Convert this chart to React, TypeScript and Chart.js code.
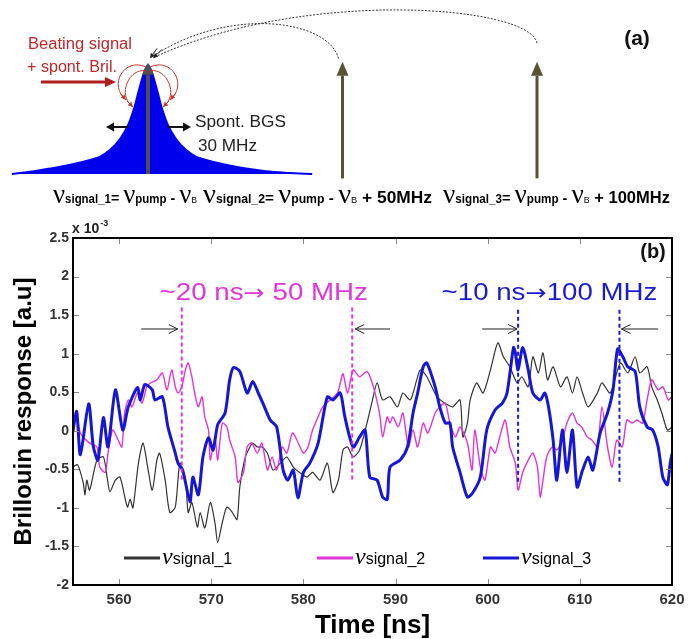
import React, { useEffect, useRef } from 'react';
import { Chart, registerables } from 'chart.js';
Chart.register(...registerables);

const SANS = '"Liberation Sans", Arial, Helvetica, sans-serif';
const SERIF = '"Liberation Serif", "Times New Roman", serif';
const ARROWFONT = '"DejaVu Sans", sans-serif';

// ---------- (a) schematic: spontaneous Brillouin gain spectrum ----------
const bgsFreq = [-35, -30.3, -25.2, -20, -14.9, -12.3, -9.8, -7.2, -5.1, -3.6, -2.1, -1.0, 0, 1.0, 2.1, 3.6, 5.1, 7.2, 9.8, 12.3, 14.9, 20, 25.2, 30.3, 36.5, 42.2];
const bgsGain = [0, 0.02, 0.05, 0.085, 0.13, 0.16, 0.22, 0.32, 0.45, 0.6, 0.8, 0.93, 1.0, 0.93, 0.8, 0.6, 0.45, 0.32, 0.22, 0.16, 0.13, 0.085, 0.05, 0.025, 0.01, 0];
const probeOffsets = [50, 100];

// ---------- (b) Brillouin response ----------
const xTicks = [560, 570, 580, 590, 600, 610, 620];
const yTicks = [-2, -1.5, -1, -0.5, 0, 0.5, 1, 1.5, 2, 2.5];
const seriesNames = ['signal_1', 'signal_2', 'signal_3'];

const time1 = [555.0, 555.5, 556.1, 556.3, 556.5, 556.8, 557.6, 558.3, 558.7, 559.0, 559.6, 560.1, 560.9, 561.2, 561.5, 562.1, 562.6, 563.1, 563.6, 564.1, 564.4, 565.0, 565.5, 566.1, 566.6, 567.2, 567.5, 567.9, 568.5, 568.8, 569.3, 569.9, 570.4, 570.7, 571.2, 571.7, 572.3, 572.8, 573.1, 573.7, 574.2, 574.5, 575.0, 575.5, 576.1, 576.7, 577.5, 578.2, 578.9, 579.6, 580.4, 581.0, 581.8, 582.6, 583.2, 583.8, 584.3, 584.8, 585.4, 586.1, 586.9, 587.5, 588.0, 588.6, 589.4, 590.2, 590.8, 591.6, 592.3, 592.7, 593.4, 594.5, 595.6, 596.2, 597.0, 597.3, 597.8, 598.1, 598.8, 599.5, 600.3, 601.1, 601.7, 602.4, 603.2, 603.7, 604.4, 604.9, 605.5, 606.0, 606.5, 607.1, 607.9, 608.6, 609.2, 609.7, 610.3, 610.9, 611.9, 612.4, 613.3, 614.4, 615.2, 616.0, 616.5, 617.3, 617.8, 618.4, 618.9, 619.5, 620.0];
const resp1 = [-0.47, -0.44, -0.67, -0.83, -0.64, -0.77, -0.38, -0.34, -0.60, -0.79, -0.64, -0.60, -0.99, -0.89, -1.00, -0.42, -0.16, -0.47, -0.77, -0.38, -0.29, -0.64, -1.06, -0.99, -0.42, -0.64, -1.06, -0.93, -1.25, -1.06, -1.26, -0.93, -1.19, -1.45, -1.19, -0.99, -1.06, -1.15, -0.73, -0.34, -0.21, -0.16, -0.21, -0.21, -0.29, -0.51, -0.42, -0.34, -0.47, -0.54, -0.60, -0.54, -0.64, -0.42, -0.80, -0.64, -0.25, -0.21, -0.34, -0.25, 0.10, 0.40, 0.62, 0.40, 0.44, 0.31, 0.49, 0.40, 0.66, 0.79, 0.70, 0.44, 0.34, 0.31, 0.40, -0.08, 0.10, 0.40, 0.62, 0.49, 0.79, 1.14, 0.96, 0.83, 0.62, 0.70, 0.57, 0.96, 0.75, 1.01, 0.66, 0.83, 0.57, 0.70, 0.49, 0.70, 0.49, 0.31, 0.49, 0.62, 0.49, 0.88, 0.75, 0.96, 0.75, 0.83, 0.57, 0.40, 0.23, 0.01, 0.05];

const time2 = [555.0, 555.4, 555.8, 556.8, 557.6, 557.9, 558.5, 558.8, 559.3, 559.9, 560.3, 560.6, 561.0, 561.4, 562.0, 562.5, 563.0, 563.4, 564.1, 564.7, 565.2, 565.7, 566.1, 566.4, 566.8, 567.2, 567.5, 567.9, 568.2, 568.6, 569.0, 569.3, 569.7, 569.9, 570.4, 570.7, 571.2, 571.7, 572.0, 572.6, 572.9, 573.5, 573.9, 574.4, 575.0, 575.5, 576.1, 576.6, 577.1, 577.7, 578.2, 578.8, 579.3, 580.0, 580.5, 581.0, 581.6, 582.1, 582.9, 583.7, 584.0, 584.3, 584.8, 585.4, 586.1, 586.9, 587.6, 588.3, 588.6, 589.1, 589.4, 589.7, 590.3, 590.8, 591.4, 591.9, 592.4, 593.0, 593.5, 594.3, 594.8, 595.4, 595.9, 596.5, 597.0, 597.8, 598.3, 598.6, 599.2, 599.7, 600.3, 600.8, 601.3, 601.9, 602.4, 603.0, 603.3, 603.8, 604.4, 604.9, 605.4, 605.7, 606.0, 606.4, 607.0, 607.5, 608.1, 608.6, 609.2, 609.7, 610.2, 610.8, 611.3, 611.9, 612.4, 613.0, 613.5, 614.0, 614.6, 615.1, 615.7, 616.2, 616.8, 617.3, 617.8, 618.5, 619.0, 619.6, 620.0];
const resp2 = [0.14, 0.18, -0.03, -0.16, -0.21, -0.47, -0.54, -0.29, 0.01, -0.12, -0.21, 0.23, 0.40, 0.31, 0.49, 0.36, 0.57, 0.62, 0.66, 0.75, 0.53, 0.79, 0.57, 0.49, 0.57, 0.79, 0.88, 0.70, 0.49, 0.31, 0.44, 0.18, 0.01, -0.38, -0.08, -0.38, 0.10, 0.05, -0.12, -0.34, -0.67, -0.54, -0.21, -0.16, -0.29, -0.16, -0.51, -0.34, -0.51, -0.21, -0.29, -0.03, -0.12, -0.29, -0.21, 0.01, 0.18, 0.31, 0.40, 0.49, 0.62, 0.74, 0.49, 0.79, 0.70, 0.77, 0.57, 0.20, -0.08, 0.18, 0.10, 0.18, 0.05, 0.23, -0.21, 0.01, -0.21, 0.10, -0.03, 0.23, 0.31, 0.36, 0.10, -0.08, 0.05, -0.16, -0.51, 0.01, -0.47, -0.64, -0.21, -0.29, -0.08, 0.14, -0.21, -0.42, -0.77, -0.54, -0.38, -0.29, -0.47, -0.86, -0.64, -0.34, -0.21, -0.25, -0.12, 0.10, 0.23, 0.10, 0.05, -0.08, -0.12, -0.21, 0.31, -0.21, -0.47, -0.12, -0.21, 0.14, 0.10, 0.14, 0.10, 0.40, 0.66, 0.53, 0.57, 0.40, 0.45];

const time3 = [555.0, 555.4, 555.8, 556.7, 557.2, 557.7, 558.3, 558.8, 559.6, 560.4, 561.0, 562.0, 562.3, 562.8, 563.6, 563.9, 564.7, 565.3, 566.1, 566.4, 566.9, 567.7, 568.0, 568.6, 569.1, 569.7, 570.2, 570.7, 571.5, 572.0, 572.4, 573.1, 573.9, 574.5, 575.1, 575.6, 576.4, 577.1, 577.8, 578.3, 578.9, 579.4, 580.0, 580.7, 581.6, 582.6, 583.2, 584.0, 584.5, 585.4, 586.1, 586.7, 587.2, 588.0, 588.6, 589.1, 589.4, 590.5, 591.3, 591.9, 592.4, 593.0, 593.4, 594.3, 594.8, 595.4, 595.9, 596.2, 597.0, 597.8, 598.4, 599.2, 599.9, 600.8, 601.6, 602.1, 602.8, 603.0, 603.3, 603.8, 604.4, 604.9, 605.7, 606.2, 606.6, 607.1, 607.5, 608.1, 608.6, 609.2, 609.7, 610.3, 610.9, 611.4, 612.2, 613.0, 613.6, 614.1, 614.7, 615.2, 616.0, 616.5, 617.3, 617.9, 618.5, 619.0, 619.5, 619.8, 620.0];
const resp3 = [0.0, 0.25, -0.31, 0.35, -0.2, -0.38, 0.17, -0.21, 0.53, 0.01, 0.31, 0.56, 0.40, 0.60, 0.53, 0.40, 0.44, 0.05, -0.29, -0.42, -0.51, -0.92, -0.60, -0.83, -0.34, -0.09, -0.25, 0.08, 0.23, 0.66, 0.82, 0.77, 0.49, 0.64, 0.49, 0.36, 0.14, 0.05, -0.51, -0.64, -0.51, -0.87, -0.54, -0.42, -0.16, 0.44, 0.40, 0.49, 0.18, -0.21, -0.08, 0.01, -0.60, -0.64, -0.86, -0.89, -0.47, -0.38, -0.21, 0.23, 0.49, 0.83, 0.88, 0.57, 0.31, 0.10, 0.10, -0.21, -0.54, -0.86, -0.80, -0.60, 0.01, 0.27, 0.36, 0.49, 1.08, 1.01, 0.79, 1.08, 0.79, 0.49, 0.40, 0.49, 0.31, -0.12, -0.64, 0.01, -0.54, 0.01, -0.73, -0.51, -0.34, -0.51, -0.03, 0.23, 0.53, 1.06, 0.95, 0.83, 0.77, 0.31, 0.05, 0.01, -0.21, -0.60, -0.70, -0.42, -0.30];

const period50 = [566.8, 585.3];
const period100 = [603.3, 614.3];

// ---------- helpers ----------
function arrow(ctx: CanvasRenderingContext2D, x1: number, y1: number, x2: number, y2: number, color: string, width: number, headLen: number, headW: number, open = false) {
  const a = Math.atan2(y2 - y1, x2 - x1);
  const bx = x2 - Math.cos(a) * headLen;
  const by = y2 - Math.sin(a) * headLen;
  ctx.save();
  ctx.strokeStyle = color;
  ctx.fillStyle = color;
  ctx.lineWidth = width;
  ctx.setLineDash([]);
  ctx.beginPath();
  ctx.moveTo(x1, y1);
  ctx.lineTo(open ? x2 : bx, open ? y2 : by);
  ctx.stroke();
  const px = -Math.sin(a) * headW, py = Math.cos(a) * headW;
  ctx.beginPath();
  if (open) {
    ctx.moveTo(bx + px, by + py);
    ctx.lineTo(x2, y2);
    ctx.lineTo(bx - px, by - py);
    ctx.stroke();
  } else {
    ctx.moveTo(bx + px, by + py);
    ctx.lineTo(x2, y2);
    ctx.lineTo(bx - px, by - py);
    ctx.closePath();
    ctx.fill();
  }
  ctx.restore();
}

function fitText(ctx: CanvasRenderingContext2D, text: string, x1: number, x2: number, y: number, font: string, color: string) {
  ctx.save();
  ctx.font = font;
  ctx.fillStyle = color;
  ctx.textAlign = 'left';
  ctx.textBaseline = 'alphabetic';
  const w = ctx.measureText(text).width;
  ctx.translate(x1, y);
  ctx.scale((x2 - x1) / w, 1);
  ctx.fillText(text, 0, 0);
  ctx.restore();
}

type Run = { t: string; f: string; dy?: number };
function drawRuns(ctx: CanvasRenderingContext2D, runs: Run[], x1: number, x2: number, y: number, color = '#000') {
  ctx.save();
  let total = 0;
  for (const r of runs) { ctx.font = r.f; total += ctx.measureText(r.t).width; }
  ctx.translate(x1, y);
  ctx.scale((x2 - x1) / total, 1);
  ctx.fillStyle = color;
  ctx.textAlign = 'left';
  ctx.textBaseline = 'alphabetic';
  let x = 0;
  for (const r of runs) {
    ctx.font = r.f;
    ctx.fillText(r.t, x, r.dy || 0);
    x += ctx.measureText(r.t).width;
  }
  ctx.restore();
}

const NU = `28px ${SERIF}`;
const SUB = `bold 12px ${SANS}`;
const OP = `bold 15px ${SANS}`;
const SUBB = `9px ${SANS}`;
function formulaRuns(idx: number, extra: string): Run[] {
  const runs: Run[] = [
    { t: 'ν', f: NU }, { t: `signal_${idx}`, f: SUB }, { t: '= ', f: OP },
    { t: 'ν', f: NU }, { t: 'pump', f: SUB }, { t: ' - ', f: OP },
    { t: 'ν', f: NU }, { t: 'B', f: SUBB },
  ];
  if (extra) runs.push({ t: ` + ${extra}`, f: `bold 17px ${SANS}` });
  return runs;
}

const schematicPlugin = {
  id: 'schematic',
  afterDatasetsDraw(chart: any) {
    const { ctx, scales } = chart;
    const X = (v: number) => scales.x.getPixelForValue(v);
    const Y = (v: number) => scales.y.getPixelForValue(v);
    arrow(ctx, X(0), Y(0), X(0), Y(1.02), '#4f4f4f', 4, 12, 6);
    for (const f of probeOffsets) arrow(ctx, X(f), Y(-0.04), X(f), Y(1.03), '#5a5236', 3, 14, 6);
    ctx.save();
    ctx.strokeStyle = '#333';
    ctx.lineWidth = 1;
    ctx.setLineDash([2, 1.5]);
    ctx.beginPath();
    ctx.moveTo(X(100), Y(1.2));
    ctx.bezierCurveTo(X(100) - 7, 5, X(40), -12, X(0) + 6, Y(1.07));
    ctx.stroke();
    ctx.beginPath();
    ctx.moveTo(X(50) - 4, Y(1.06));
    ctx.bezierCurveTo(X(50) - 14, 20, X(21), 5, X(0) + 3, Y(1.07));
    ctx.stroke();
    ctx.restore();
    arrow(ctx, X(0) + 14, Y(1.07) - 8, X(0) + 5, Y(1.07) + 1, '#222', 1, 5, 2.5);
    arrow(ctx, X(0) + 9, Y(1.07) - 9, X(0) + 2, Y(1.07) + 1, '#222', 1, 5, 2.5);
    ctx.save();
    ctx.strokeStyle = '#c23a2e';
    ctx.lineWidth = 1;
    const cx = X(0), ty = Y(1.0);
    for (const s of [-1, 1]) {
      ctx.beginPath();
      ctx.moveTo(cx + s * 2, ty + 2);
      ctx.bezierCurveTo(cx + s * 24, ty - 8, cx + s * 40, ty + 20, cx + s * 22, ty + 35);
      ctx.stroke();
      ctx.beginPath();
      ctx.moveTo(cx + s * 2, ty + 6);
      ctx.bezierCurveTo(cx + s * 18, ty + 2, cx + s * 32, ty + 30, cx + s * 15, ty + 42);
      ctx.stroke();
      arrow(ctx, cx + s * 28, ty + 28, cx + s * 22, ty + 35, '#c23a2e', 1, 5, 2.5);
      arrow(ctx, cx + s * 21, ty + 36, cx + s * 15, ty + 42, '#c23a2e', 1, 5, 2.5);
    }
    ctx.restore();
    fitText(ctx, 'Beating signal', 28, 132, 49, `16px ${SANS}`, '#c0282a');
    fitText(ctx, '+ spont. Bril.', 27, 117, 72, `16px ${SANS}`, '#c0282a');
    arrow(ctx, 41, 82, 116, 82, '#b01e1e', 3, 11, 5);
    arrow(ctx, 128, 127, 106, 127, '#111', 2, 8, 4.5);
    arrow(ctx, 168, 127, 191, 127, '#111', 2, 8, 4.5);
    fitText(ctx, 'Spont. BGS', 195, 286, 127, `17px ${SANS}`, '#222');
    fitText(ctx, '30 MHz', 198, 257, 151, `17px ${SANS}`, '#222');
    drawRuns(ctx, formulaRuns(1, ''), 53, 197, 203);
    drawRuns(ctx, formulaRuns(2, '50MHz'), 203, 432, 203);
    drawRuns(ctx, formulaRuns(3, '100MHz'), 443, 670, 203);
    ctx.save();
    ctx.font = `bold 21px ${SANS}`;
    ctx.fillStyle = '#111';
    ctx.textAlign = 'center';
    ctx.textBaseline = 'middle';
    ctx.fillText('(a)', 637, 39);
    ctx.restore();
  },
};

const COLORS = ['#333333', '#e035d8', '#1616d6'];

const annotPlugin = {
  id: 'annot',
  afterDatasetsDraw(chart: any) {
    const { ctx, chartArea: ca, scales } = chart;
    const X = (v: number) => scales.x.getPixelForValue(v);
    const Y = (v: number) => scales.y.getPixelForValue(v);
    ctx.save();
    ctx.strokeStyle = '#8a8a8a';
    ctx.lineWidth = 1;
    ctx.beginPath();
    for (const t of xTicks) {
      const x = Math.round(X(t)) + 0.5;
      ctx.moveTo(x, ca.bottom); ctx.lineTo(x, ca.bottom - 6);
      ctx.moveTo(x, ca.top); ctx.lineTo(x, ca.top + 6);
    }
    for (const t of yTicks) {
      const y = Math.round(Y(t)) + 0.5;
      ctx.moveTo(ca.left, y); ctx.lineTo(ca.left + 6, y);
      ctx.moveTo(ca.right, y); ctx.lineTo(ca.right - 6, y);
    }
    ctx.stroke();
    ctx.strokeStyle = '#000';
    ctx.lineWidth = 2;
    ctx.strokeRect(ca.left, ca.top, ca.right - ca.left, ca.bottom - ca.top);
    ctx.restore();

    const dashed = (t: number, v1: number, v2: number, color: string) => {
      ctx.save();
      ctx.strokeStyle = color;
      ctx.lineWidth = 2;
      ctx.setLineDash([4, 3]);
      ctx.beginPath();
      ctx.moveTo(X(t), Y(v1));
      ctx.lineTo(X(t), Y(v2));
      ctx.stroke();
      ctx.restore();
    };
    for (const t of period50) dashed(t, 1.6, -0.66, '#e035d8');
    for (const t of period100) dashed(t, 1.57, -0.7, '#1a1ad0');

    const ay = Y(1.32);
    arrow(ctx, X(562.4), ay, X(period50[0]) - 4, ay, '#222', 1, 9, 4.5, true);
    arrow(ctx, X(589.4), ay, X(period50[1]) + 3, ay, '#222', 1, 9, 4.5, true);
    arrow(ctx, X(599.4), ay, X(period100[0]) - 1, ay, '#222', 1, 9, 4.5, true);
    arrow(ctx, X(618.5), ay, X(period100[1]) + 2, ay, '#222', 1, 9, 4.5, true);

    const TF = `24px ${SANS}`;
    const AF = `22px ${ARROWFONT}`;
    drawRuns(ctx, [{ t: '~20 ns', f: TF }, { t: '→', f: AF }, { t: ' 50 MHz', f: TF }], X(564.4), X(587.0), Y(1.7), '#e035d8');
    drawRuns(ctx, [{ t: '~10 ns', f: TF }, { t: '→', f: AF }, { t: '100 MHz', f: TF }], X(595.0), X(618.4), Y(1.7), '#1a1ad0');

    ctx.save();
    ctx.font = `bold 20px ${SANS}`;
    ctx.fillStyle = '#111';
    ctx.textAlign = 'center';
    ctx.textBaseline = 'middle';
    ctx.fillText('(b)', 653, 252);
    ctx.font = `bold 14px ${SANS}`;
    ctx.textAlign = 'left';
    ctx.textBaseline = 'alphabetic';
    ctx.fillStyle = '#222';
    ctx.fillText('x 10', 72, 233);
    const w10 = ctx.measureText('x 10').width;
    ctx.font = `bold 9px ${SANS}`;
    ctx.fillText('-3', 72 + w10 + 1, 226);
    ctx.restore();

    const lx = [124, 317, 483];
    const ly = 558;
    chart.data.datasets.forEach((ds: any, i: number) => {
      ctx.save();
      ctx.strokeStyle = COLORS[i];
      ctx.lineWidth = 3;
      ctx.beginPath();
      ctx.moveTo(lx[i], ly);
      ctx.lineTo(lx[i] + 36, ly);
      ctx.stroke();
      ctx.fillStyle = '#000';
      ctx.textBaseline = 'alphabetic';
      ctx.font = `italic 24px ${SERIF}`;
      ctx.fillText('ν', lx[i] + 38, ly + 6);
      const w = ctx.measureText('ν').width;
      ctx.font = `16px ${SANS}`;
      ctx.fillText(ds.label, lx[i] + 38 + w, ly + 6);
      ctx.restore();
    });
  },
};

export default function App() {
  const topRef = useRef<HTMLCanvasElement>(null);
  const botRef = useRef<HTMLCanvasElement>(null);

  useEffect(() => {
    const top = new Chart(topRef.current!, {
      type: 'line',
      data: {
        datasets: [{
          data: bgsFreq.map((f, i) => ({ x: f, y: bgsGain[i] })),
          borderColor: '#0000ee',
          backgroundColor: '#0000ee',
          borderWidth: 2,
          pointRadius: 0,
          fill: 'origin',
          cubicInterpolationMode: 'monotone',
        }],
      },
      options: {
        responsive: false,
        animation: false,
        devicePixelRatio: 1,
        layout: { padding: 0 },
        plugins: { legend: { display: false }, tooltip: { enabled: false } },
        scales: {
          x: { type: 'linear', display: false, min: -38.05, max: 141.9 },
          y: { display: false, min: -0.33, max: 1.596 },
        },
      },
      plugins: [schematicPlugin],
    });

    const mk = (t: number[], r: number[]) => t.map((x, i) => ({ x, y: r[i] }));
    const bottom = new Chart(botRef.current!, {
      type: 'line',
      data: {
        datasets: [
          { label: seriesNames[0], data: mk(time1, resp1), borderColor: COLORS[0], borderWidth: 1.2, pointRadius: 0, tension: 0.25, order: 2 },
          { label: seriesNames[1], data: mk(time2, resp2), borderColor: COLORS[1], borderWidth: 1.4, pointRadius: 0, tension: 0.25, order: 1 },
          { label: seriesNames[2], data: mk(time3, resp3), borderColor: COLORS[2], borderWidth: 3, pointRadius: 0, tension: 0.25, order: 0 },
        ],
      },
      options: {
        responsive: false,
        animation: false,
        devicePixelRatio: 1,
        layout: { padding: { top: 238, right: 28, left: 0, bottom: 0 } },
        plugins: { legend: { display: false }, tooltip: { enabled: false } },
        scales: {
          x: {
            type: 'linear', min: 555, max: 620,
            afterBuildTicks: (s: any) => { s.ticks = xTicks.map((v) => ({ value: v })); },
            afterFit: (s: any) => { s.height = 54; },
            grid: { display: false, drawTicks: false },
            border: { display: false },
            ticks: { font: { family: SANS, size: 15, weight: 'bold' }, color: '#333', padding: 6, maxRotation: 0, autoSkip: false },
            title: { display: true, text: 'Time [ns]', color: '#000', font: { family: SANS, size: 26, weight: 'bold', lineHeight: 1 }, padding: { top: 0, bottom: 0 } },
          },
          y: {
            type: 'linear', min: -2, max: 2.5,
            afterBuildTicks: (s: any) => { s.ticks = yTicks.map((v) => ({ value: v })); },
            afterFit: (s: any) => { s.width = 73; },
            grid: { display: false, drawTicks: false },
            border: { display: false },
            ticks: { font: { family: SANS, size: 14, weight: 'bold' }, color: '#333', padding: 4, callback: (v: any) => String(v) },
            title: { display: true, text: 'Brillouin response [a.u]', color: '#000', font: { family: SANS, size: 24, weight: 'bold', lineHeight: 1.2 }, padding: { top: 10, bottom: 0 } },
          },
        },
      },
      plugins: [annotPlugin],
    });

    return () => { top.destroy(); bottom.destroy(); };
  }, []);

  return (
    <div style={{ position: 'absolute', left: 0, top: 0, width: 700, height: 639, background: '#fff' }}>
      <canvas ref={botRef} width={700} height={639} style={{ position: 'absolute', left: 0, top: 0 }} />
      <canvas ref={topRef} width={700} height={210} style={{ position: 'absolute', left: 0, top: 0 }} />
    </div>
  );
}
